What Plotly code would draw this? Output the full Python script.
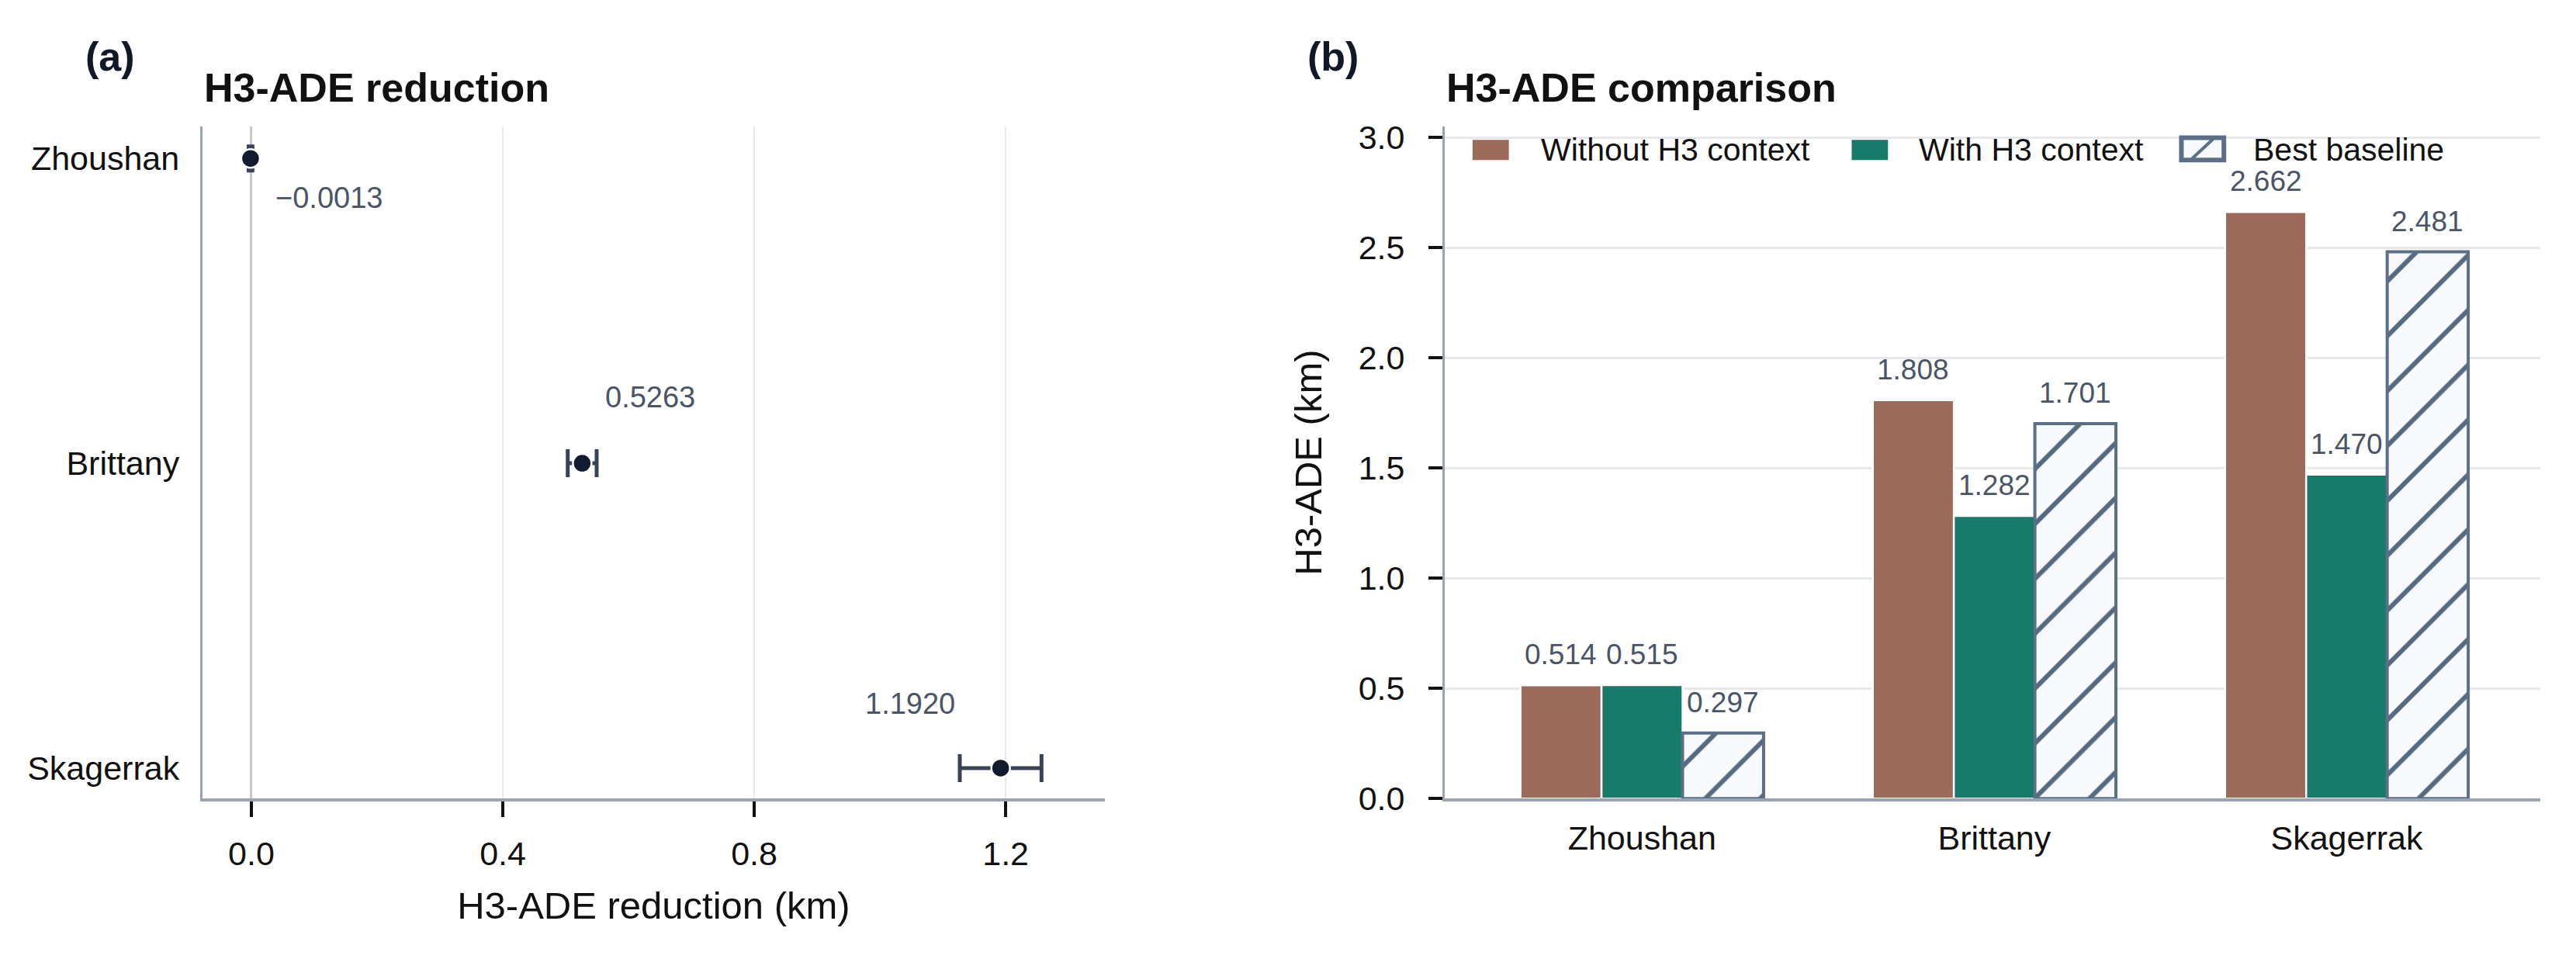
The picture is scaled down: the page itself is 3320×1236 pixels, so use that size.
import plotly.graph_objects as go

# data
regions = ["Zhoushan", "Brittany", "Skagerrak"]
reduction = [-0.0013, 0.5263, 1.1920]
reduction_err = [0.003, 0.023, 0.065]
without_h3 = [0.514, 1.808, 2.662]
with_h3 = [0.515, 1.282, 1.470]
best_baseline = [0.297, 1.701, 2.481]
series_names = ["Without H3 context", "With H3 context", "Best baseline"]
x_ticks_a = [0.0, 0.4, 0.8, 1.2]
y_ticks_b = [0.0, 0.5, 1.0, 1.5, 2.0, 2.5, 3.0]

# label offsets (px) for the panel (a) values
label_dx = [101, 88, -117]
label_dy = [-51, 85, 83]

W, H = 3320, 1236
FONT = "Liberation Sans, Arial, sans-serif"
BROWN = "#9b6a58"
GREEN = "#177a6b"
SLATE = "#5b6f86"
HATCH_BG = "#f7f9fc"
LABEL = "#4a5568"
AXIS = "#9aa3b1"
GRID = "#e6e8ec"
BARGAP = 0.31


def px(x):
    return x / W


def py(y):
    return 1 - y / H


fig = go.Figure()

# (a) reduction with error bars
fig.add_trace(go.Scatter(
    x=reduction, y=regions, mode="markers",
    marker=dict(size=24, color="#111a2e", line=dict(color="white", width=2.5)),
    error_x=dict(type="data", array=reduction_err, color="#384357", thickness=5, width=18),
    xaxis="x", yaxis="y", showlegend=False))

# (b) grouped bars
fig.add_trace(go.Bar(x=regions, y=without_h3, name=series_names[0],
                     marker=dict(color=BROWN, line=dict(color="white", width=2.5)),
                     xaxis="x2", yaxis="y2", showlegend=False))
fig.add_trace(go.Bar(x=regions, y=with_h3, name=series_names[1],
                     marker=dict(color=GREEN, line=dict(color="white", width=2.5)),
                     xaxis="x2", yaxis="y2", showlegend=False))
fig.add_trace(go.Bar(x=regions, y=best_baseline, name=series_names[2],
                     marker=dict(color=HATCH_BG, line=dict(color=SLATE, width=4),
                                 pattern=dict(shape="/", fgcolor="#55697f", bgcolor=HATCH_BG,
                                              fgopacity=1, fillmode="replace",
                                              size=50, solidity=0.12)),
                     xaxis="x2", yaxis="y2", showlegend=False))

annotations = []

# value labels, panel (a)
for i, v in enumerate(reduction):
    annotations.append(dict(
        x=v, y=regions[i], xref="x", yref="y", showarrow=False,
        text=f"{v:.4f}".replace("-", "\u2212"),
        xshift=label_dx[i], yshift=label_dy[i],
        font=dict(family=FONT, size=38, color=LABEL)))

# value labels, panel (b)
w = (1 - BARGAP) / 3
for k, vals in enumerate([without_h3, with_h3, best_baseline]):
    for i, v in enumerate(vals):
        annotations.append(dict(
            x=i + (k - 1) * w, y=v, xref="x2", yref="y2", showarrow=False,
            text=f"{v:.3f}", yanchor="bottom", yshift=17,
            font=dict(family=FONT, size=37, color=LABEL)))

# panel letters and titles
for t, x in [("(a)", 100), ("(b)", 1683)]:
    annotations.append(dict(x=px(x), y=py(58), xref="paper", yref="paper",
                            xanchor="left", yanchor="middle", showarrow=False,
                            text=f"<b>{t}</b>", font=dict(family=FONT, size=52, color="#111827")))
for t, x in [("H3-ADE reduction", 254), ("H3-ADE comparison", 1863)]:
    annotations.append(dict(x=px(x), y=py(100), xref="paper", yref="paper",
                            xanchor="left", yanchor="middle", showarrow=False,
                            text=f"<b>{t}</b>", font=dict(family=FONT, size=52, color="#111111")))

# hand-drawn legend for panel (b)
shapes = [
    dict(type="rect", xref="paper", yref="paper", x0=px(1899), x1=px(1946), y0=py(197), y1=py(170),
         fillcolor=BROWN, line=dict(width=0)),
    dict(type="rect", xref="paper", yref="paper", x0=px(2390), x1=px(2437), y0=py(197), y1=py(170),
         fillcolor=GREEN, line=dict(width=0)),
    dict(type="rect", xref="paper", yref="paper", x0=px(2817), x1=px(2872), y0=py(197), y1=py(167),
         fillcolor=HATCH_BG, line=dict(color=SLATE, width=6)),
    dict(type="line", xref="paper", yref="paper", x0=px(2831), x1=px(2858), y0=py(195), y1=py(169),
         line=dict(color=SLATE, width=4)),
]
for name, x in zip(series_names, [1986, 2475, 2908]):
    annotations.append(dict(x=px(x), y=py(183), xref="paper", yref="paper",
                            xanchor="left", yanchor="middle", showarrow=False,
                            text=name, font=dict(family=FONT, size=41, color="#111111")))

fig.update_layout(
    template="plotly_white",
    paper_bgcolor="white",
    plot_bgcolor="white",
    margin=dict(l=0, r=0, t=0, b=0, pad=0),
    font=dict(family=FONT, size=43, color="#111111"),
    barmode="group",
    bargap=BARGAP,
    bargroupgap=0,
    annotations=annotations,
    shapes=shapes,
    xaxis=dict(domain=[px(254), px(1423)], anchor="y",
               range=[-0.078, 1.358], tickvals=x_ticks_a, tickformat=".1f",
               showgrid=True, gridcolor=GRID, gridwidth=2,
               zeroline=True, zerolinecolor="#c5cad3", zerolinewidth=3,
               showline=True, linecolor=AXIS, linewidth=4,
               ticks="outside", ticklen=20, tickwidth=4, tickcolor="#111111",
               ticklabelstandoff=10,
               title=dict(text="H3-ADE reduction (km)", font=dict(size=49), standoff=28)),
    yaxis=dict(domain=[py(1054), py(152)], anchor="x",
               range=[2.1, -0.105], type="category", categoryorder="array",
               categoryarray=regions,
               showgrid=False, zeroline=False,
               showline=True, linecolor=AXIS, linewidth=3,
               ticks="outside", ticklen=18, tickcolor="rgba(0,0,0,0)"),
    xaxis2=dict(domain=[px(1863), px(3282)], anchor="y2",
                range=[-0.56, 2.55], type="category",
                showgrid=False, zeroline=False,
                showline=True, linecolor=AXIS, linewidth=4,
                ticks="outside", ticklen=10, tickcolor="rgba(0,0,0,0)"),
    yaxis2=dict(domain=[py(1054), py(152)], anchor="x2",
                range=[0, 3.05], tickvals=y_ticks_b, tickformat=".1f",
                showgrid=True, gridcolor=GRID, gridwidth=3,
                zeroline=False,
                showline=True, linecolor=AXIS, linewidth=3,
                ticks="outside", ticklen=18, tickwidth=4, tickcolor="#111111",
                ticklabelstandoff=22,
                title=dict(text="H3-ADE (km)", font=dict(size=49), standoff=32)),
)

fig.write_html("out.html")
